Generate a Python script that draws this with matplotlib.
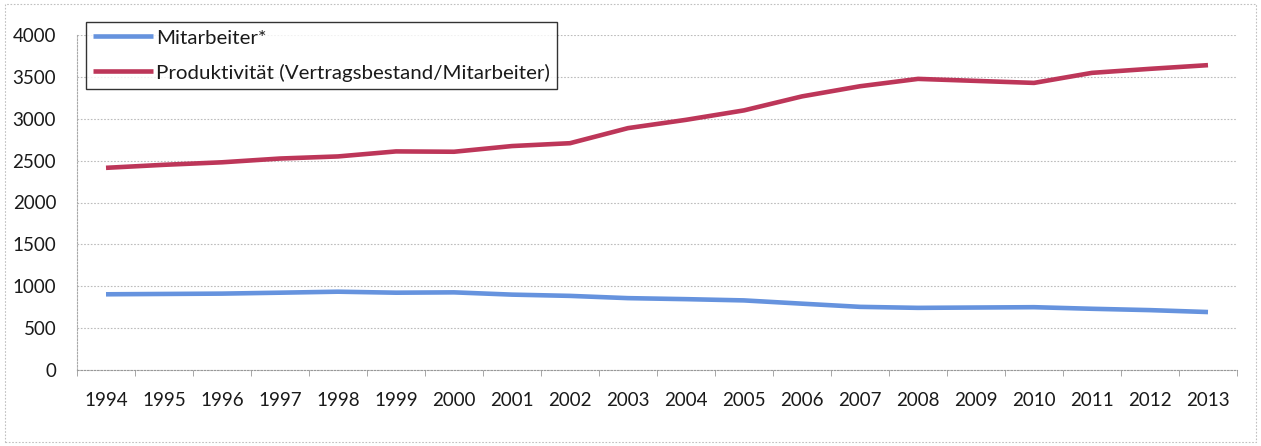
import matplotlib
matplotlib.use("Agg")
import matplotlib.pyplot as plt
from matplotlib.patches import Rectangle
import numpy as np

years = ["1994", "1995", "1996", "1997", "1998", "1999", "2000", "2001", "2002", "2003",
         "2004", "2005", "2006", "2007", "2008", "2009", "2010", "2011", "2012", "2013"]
mitarbeiter = [904, 908, 912, 923, 935, 923, 927, 900, 885, 858,
               846, 831, 792, 754, 742, 746, 750, 731, 715, 692]
produktivitaet = [2414, 2450, 2480, 2525, 2550, 2610, 2606, 2674, 2708, 2888,
                  2987, 3100, 3267, 3388, 3476, 3452, 3428, 3548, 3596, 3640]
yticks = [0, 500, 1000, 1500, 2000, 2500, 3000, 3500, 4000]

plt.rcParams['font.family'] = ['Lato', 'DejaVu Sans']

fig = plt.figure(figsize=(12.61, 4.46), dpi=100)
ax = fig.add_axes([77/1261, 1 - 370/446, (1237 - 77)/1261, (370 - 35)/446])

x = np.arange(len(years))
ax.plot(x, mitarbeiter, color='#6693DE', lw=3.3, label='Mitarbeiter*', solid_capstyle='butt')
ax.plot(x, produktivitaet, color='#BD3659', lw=3.3,
        label='Produktivität (Vertragsbestand/Mitarbeiter)', solid_capstyle='butt')

ax.set_xlim(-0.5, len(years) - 0.5)
ax.set_ylim(0, 4000)
ax.set_yticks(yticks)
ax.set_yticklabels([str(v) for v in yticks], fontsize=13.5, color='#1a1a1a')
ax.set_xticks(x)
ax.set_xticklabels(years, fontsize=13.5, color='#1a1a1a')
ax.set_xticks(np.arange(-0.5, len(years), 1.0), minor=True)
ax.tick_params(axis='x', which='major', length=0, pad=16)
ax.tick_params(axis='x', which='minor', length=4, color='#999999', direction='out')
ax.tick_params(axis='y', which='major', length=0, pad=15)

ax.grid(axis='y', color='#bcbcbc', lw=0.8, ls=(0, (1.5, 1.5)))
ax.set_axisbelow(True)
for s in ['top', 'right']:
    ax.spines[s].set_visible(False)
ax.spines['left'].set_color('#aaaaaa')
ax.spines['left'].set_linestyle((0, (1.5, 1.5)))
ax.spines['bottom'].set_color('#999999')
ax.spines['bottom'].set_linestyle((0, (1.5, 1.5)))

leg = ax.legend(loc='upper left', bbox_to_anchor=((86 - 77) / 1160, 1 + (35 - 22) / 335),
                frameon=True, fancybox=False, fontsize=14.75, handlelength=2.9,
                handletextpad=0.15, borderpad=0.35, labelspacing=0.83, borderaxespad=0)
leg.get_frame().set_edgecolor('black')
leg.get_frame().set_linewidth(1.0)
for t in leg.get_texts():
    t.set_color('#1a1a1a')

fig.patches.append(Rectangle((5/1261, 4/446), 1 - 10/1261, 1 - 8/446, transform=fig.transFigure,
                             fill=False, edgecolor='#c0c0c0', lw=0.8, ls=(0, (1.5, 1.5))))

fig.savefig('out.png', dpi=100)
